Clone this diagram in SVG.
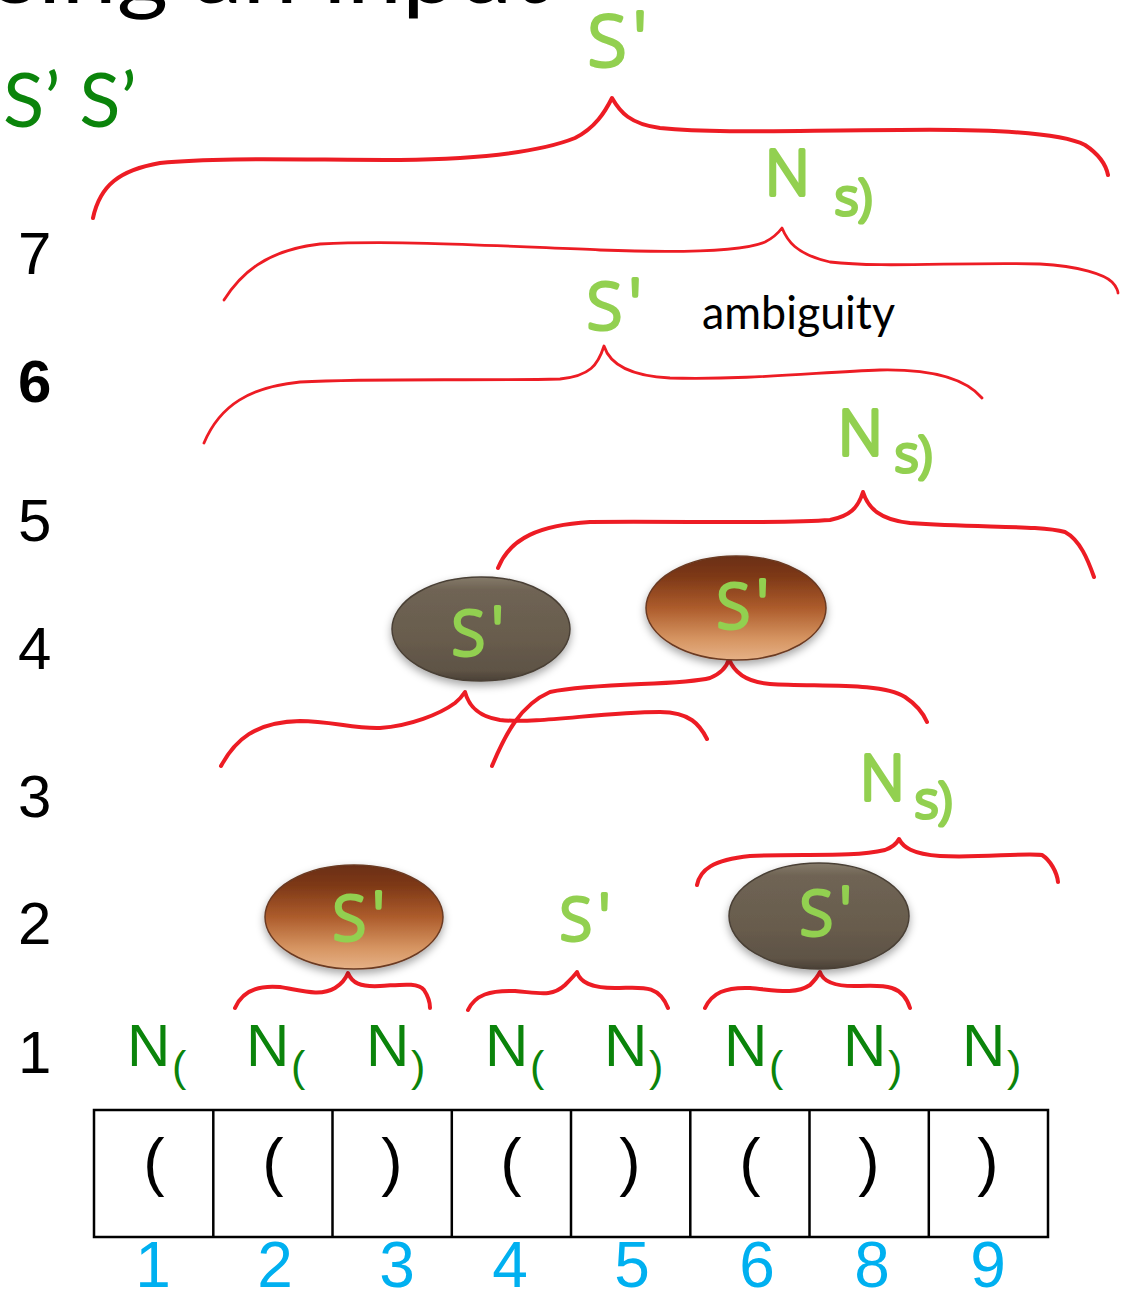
<svg xmlns="http://www.w3.org/2000/svg" width="1121" height="1291" viewBox="0 0 1121 1291">
  <style>
    .title { font-family: Lato, "Open Sans", sans-serif; font-size: 90px; fill: #000; }
    .rownum { font-family: "Liberation Sans", Arial, sans-serif; font-size: 60px; fill: #000; }
    .nt { font-family: "Liberation Sans", Arial, sans-serif; font-size: 60px; fill: #0b840b; }
    .ntsub { font-size: 43px; }
    .sym { font-family: "Liberation Sans", Arial, sans-serif; font-size: 64px; fill: #000; text-anchor: middle; }
    .idx { font-family: "Liberation Sans", Arial, sans-serif; font-size: 64px; fill: #00b0f0; text-anchor: middle; }
    .hw { font-family: "Open Sans", "DejaVu Sans", sans-serif; font-weight: 300; fill: #92d050; stroke: #92d050; stroke-width: 4; stroke-linejoin: round; }
    .brace { fill: none; stroke: #ed1c24; stroke-width: 4; stroke-linecap: round; stroke-linejoin: round; }
    .thin { stroke-width: 2.8; }
    .cell { fill: none; stroke: #000; stroke-width: 2.5; }
  </style>
  <defs>
    <linearGradient id="stoneGray" x1="0" y1="0" x2="0" y2="1">
      <stop offset="0" stop-color="#857a6a"/>
      <stop offset="0.12" stop-color="#6f6454"/>
      <stop offset="0.6" stop-color="#685c4d"/>
      <stop offset="0.9" stop-color="#5e5345"/>
      <stop offset="1" stop-color="#4a4036"/>
    </linearGradient>
    <linearGradient id="stoneBrown" x1="0" y1="0" x2="0" y2="1">
      <stop offset="0" stop-color="#6a2e12"/>
      <stop offset="0.2" stop-color="#7e3917"/>
      <stop offset="0.5" stop-color="#ad5c2c"/>
      <stop offset="0.8" stop-color="#d69562"/>
      <stop offset="1" stop-color="#e6b186"/>
    </linearGradient>
    <filter id="shadow" x="-20%" y="-20%" width="140%" height="150%">
      <feDropShadow dx="0" dy="4" stdDeviation="4" flood-color="#000" flood-opacity="0.35"/>
    </filter>
  </defs>

  <rect width="1121" height="1291" fill="#fff"/>

  <!-- slide title, cut by the top edge -->
  <text class="title" x="-5" y="3" textLength="553" lengthAdjust="spacingAndGlyphs">sing an input</text>

  <!-- start symbols -->
  <text x="3" y="127" font-family="Lato, 'Open Sans', sans-serif" font-size="76" fill="#0b840b">S’ S’</text>

  <!-- row numbers -->
  <g id="rows">
    <text class="rownum" x="18" y="274">7</text>
    <text class="rownum" x="18" y="402" font-weight="bold">6</text>
    <text class="rownum" x="18" y="541">5</text>
    <text class="rownum" x="18" y="669">4</text>
    <text class="rownum" x="18" y="817">3</text>
    <text class="rownum" x="18" y="944">2</text>
    <text class="rownum" x="18" y="1073">1</text>
  </g>

  <!-- braces joining spans -->
  <g id="connectors">
    <path class="brace" d="M93,218 C100,185 120,170 160,163 C220,157 300,160 400,160 C480,159 540,152 575,138 C595,128 605,112 612,98 C620,112 630,124 660,128 C720,134 800,130 900,130 C980,129 1060,132 1085,145 C1100,155 1106,165 1108,175"/>
    <path class="brace thin" d="M224,300 C240,275 265,250 320,244 C400,240 500,246 600,250 C680,253 740,252 765,242 C775,237 779,232 782,228 C787,240 795,254 830,262 C880,268 960,262 1040,264 C1080,266 1105,275 1112,282 C1117,287 1118,292 1118,293"/>
    <path class="brace thin" d="M204,443 C220,405 250,387 300,382 C380,378 480,381 560,379 C590,376 598,365 604,346 C610,365 630,376 670,378 C750,380 820,372 880,370 C930,369 965,378 982,398"/>
    <path class="brace" d="M498,568 C510,538 540,525 590,522 C680,521 780,524 830,520 C850,516 858,508 863,492 C868,508 880,520 910,523 C980,528 1040,525 1065,532 C1080,540 1088,560 1094,577"/>
    <path class="brace" d="M221,766 C235,740 255,722 300,721 C330,721 355,729 380,728 C410,726 440,714 455,703 C460,699 463,695 465,692 C468,703 475,716 500,720 C540,724 600,712 660,712 C690,712 700,725 707,739"/>
    <path class="brace" d="M492,766 C505,735 520,705 550,692 C600,682 680,686 710,678 C722,673 727,666 729,659 C734,672 745,682 770,684 C820,687 880,682 905,697 C917,705 924,715 927,722"/>
    <path class="brace" d="M697,885 C700,870 712,860 750,856 C800,853 850,858 885,850 C893,847 897,843 899,839 C903,847 912,854 940,856 C980,858 1020,853 1042,855 C1050,860 1057,872 1058,882"/>
    <path class="brace" d="M235,1008 C242,992 258,985 280,987 C300,990 320,997 335,988 C343,983 346,978 348,973 C352,983 360,987 380,986 C400,985 418,982 424,990 C428,996 430,1002 430,1008"/>
    <path class="brace" d="M468,1010 C475,995 490,990 515,991 C540,993 552,997 565,985 C571,979 575,975 577,972 C580,982 590,988 615,988 C640,988 658,983 668,1008"/>
    <path class="brace" d="M705,1008 C712,993 725,987 750,988 C775,990 795,995 810,985 C815,980 818,976 820,972 C823,982 835,987 860,986 C885,985 903,985 910,1008"/>
  </g>

  <!-- handwritten labels over the braces -->
  <g id="label-top"><text class="hw" x="588" y="66" font-size="70">S<tspan dx="7" dy="-4">'</tspan></text></g>
  <g id="label-n7"><text class="hw" x="765" y="195" font-size="62">N<tspan x="835" y="215" font-size="50">s)</tspan></text></g>
  <g id="label-amb">
    <text class="hw" x="587" y="329" font-size="64">S<tspan dx="7" dy="-4">'</tspan></text>
    <text x="702" y="329" font-family="Lato, 'Open Sans', sans-serif" font-size="46" fill="#000" textLength="193" lengthAdjust="spacingAndGlyphs">ambiguity</text>
  </g>
  <g id="label-n5"><text class="hw" x="838" y="455" font-size="62">N<tspan x="895" y="472" font-size="50">s)</tspan></text></g>
  <g id="label-n3"><text class="hw" x="860" y="800" font-size="62">N<tspan x="915" y="818" font-size="50">s)</tspan></text></g>

  <!-- level 4 nodes -->
  <g id="node-s4-gray">
    <ellipse cx="481" cy="629" rx="89" ry="52" fill="url(#stoneGray)" stroke="#4a4036" stroke-width="1.5" filter="url(#shadow)"/>
    <text class="hw" x="452" y="655" font-size="60">S<tspan dx="7" dy="-4">'</tspan></text>
  </g>
  <g id="node-s4-brown">
    <ellipse cx="736" cy="608" rx="90" ry="52" fill="url(#stoneBrown)" stroke="#6b3a22" stroke-width="1.5" filter="url(#shadow)"/>
    <text class="hw" x="717" y="628" font-size="60">S<tspan dx="7" dy="-4">'</tspan></text>
  </g>

  <!-- level 2 nodes -->
  <g id="node-s2-brown">
    <ellipse cx="354" cy="917" rx="89" ry="52" fill="url(#stoneBrown)" stroke="#6b3a22" stroke-width="1.5" filter="url(#shadow)"/>
    <text class="hw" x="333" y="940" font-size="60">S<tspan dx="7" dy="-4">'</tspan></text>
  </g>
  <g id="node-s2-plain">
    <text class="hw" x="560" y="940" font-size="58">S<tspan dx="7" dy="-4">'</tspan></text>
  </g>
  <g id="node-s2-gray">
    <ellipse cx="819" cy="916" rx="90" ry="53" fill="url(#stoneGray)" stroke="#4a4036" stroke-width="1.5" filter="url(#shadow)"/>
    <text class="hw" x="800" y="935" font-size="60">S<tspan dx="7" dy="-4">'</tspan></text>
  </g>

  <!-- terminals N( / N) -->
  <g id="terminals">
    <text class="nt" x="127" y="1066">N<tspan class="ntsub" x="172" y="1081">(</tspan></text>
    <text class="nt" x="246" y="1066">N<tspan class="ntsub" x="291" y="1081">(</tspan></text>
    <text class="nt" x="366" y="1066">N<tspan class="ntsub" x="411" y="1081">)</tspan></text>
    <text class="nt" x="485" y="1066">N<tspan class="ntsub" x="530" y="1081">(</tspan></text>
    <text class="nt" x="604" y="1066">N<tspan class="ntsub" x="649" y="1081">)</tspan></text>
    <text class="nt" x="724" y="1066">N<tspan class="ntsub" x="769" y="1081">(</tspan></text>
    <text class="nt" x="843" y="1066">N<tspan class="ntsub" x="888" y="1081">)</tspan></text>
    <text class="nt" x="962" y="1066">N<tspan class="ntsub" x="1007" y="1081">)</tspan></text>
  </g>

  <!-- input tape -->
  <g id="tape">
    <rect class="cell" x="94" y="1110" width="954" height="127"/>
    <path class="cell" d="M213.3,1110V1237 M332.5,1110V1237 M451.8,1110V1237 M571,1110V1237 M690.3,1110V1237 M809.5,1110V1237 M928.8,1110V1237"/>
    <text class="sym" x="154" y="1184">(</text>
    <text class="sym" x="273" y="1184">(</text>
    <text class="sym" x="392" y="1184">)</text>
    <text class="sym" x="511" y="1184">(</text>
    <text class="sym" x="630" y="1184">)</text>
    <text class="sym" x="750" y="1184">(</text>
    <text class="sym" x="869" y="1184">)</text>
    <text class="sym" x="988" y="1184">)</text>
  </g>

  <!-- positions -->
  <g id="positions">
    <text class="idx" x="153" y="1287">1</text>
    <text class="idx" x="275" y="1287">2</text>
    <text class="idx" x="397" y="1287">3</text>
    <text class="idx" x="510" y="1287">4</text>
    <text class="idx" x="632" y="1287">5</text>
    <text class="idx" x="757" y="1287">6</text>
    <text class="idx" x="872" y="1287">8</text>
    <text class="idx" x="988" y="1287">9</text>
  </g>
</svg>
